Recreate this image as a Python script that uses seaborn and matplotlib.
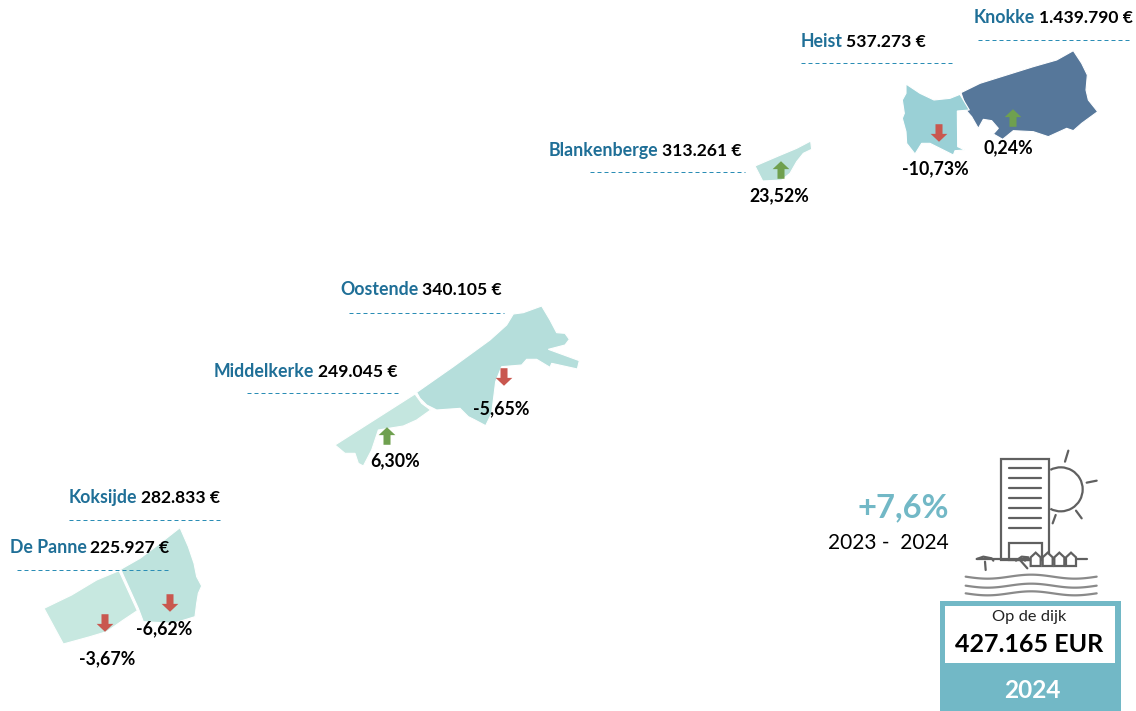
import numpy as np
import pandas as pd
import matplotlib
matplotlib.use("Agg")
import matplotlib.pyplot as plt
from matplotlib.colors import LinearSegmentedColormap
from matplotlib.patches import Arc, Rectangle
from matplotlib.path import Path
import seaborn as sns

# chart values
towns = ["Knokke", "Heist", "Blankenberge", "Oostende", "Middelkerke", "Koksijde", "De Panne"]
prices = [1439790, 537273, 313261, 340105, 249045, 282833, 225927]
changes = [0.24, -10.73, 23.52, -5.65, 6.30, -6.62, -3.67]
total_change = "+7,6%"
total_period = "2023 -  2024"
total_label = "Op de dijk"
total_price = "427.165 EUR"
total_year = "2024"

# layout, in reference pixels: label left x, label y, dash x0, dash x1, dash y
label_pos = {
    "Knokke": (974, 17.5, 978, 1132, 39.5),
    "Heist": (801, 41.5, 801, 955, 62.5),
    "Blankenberge": (549, 150.5, 590, 745, 171.5),
    "Oostende": (340, 289.5, 349, 504, 312.5),
    "Middelkerke": (214, 371.5, 247, 401, 392.5),
    "Koksijde": (69, 497.5, 69, 223, 519.5),
    "De Panne": (10, 547.5, 17, 171, 569.5),
}
arrow_x = [1013, 939, 781, 504, 387, 170, 105]
arrow_y = [118, 133, 170, 377, 436, 603, 623]
pct_pos = [(1008, 148), (935, 169), (779, 196), (501, 409), (395, 461), (164, 629), (107, 659)]

# town outlines traced on a 3x crop: (crop x0, crop y0, points)
outlines = {
    "Knokke": (780, 0, [(543,278),(600,250),(680,225),(760,200),(830,180),(880,152),(905,190),(922,225),
                        (918,270),(925,300),(953,335),(905,370),(880,392),(860,385),(805,410),(760,395),
                        (700,392),(668,418),(640,402),(655,385),(635,362),(610,358),(595,385),(575,350),(562,335)]),
    "Heist": (780, 0, [(378,252),(420,280),(462,300),(510,295),(540,283),(568,330),(532,333),(533,440),
                       (555,450),(525,452),(520,465),(490,450),(450,430),(425,430),(405,462),(380,430),
                       (378,395),(367,355),(373,340),(367,300),(378,280)]),
    "Blankenberge": (540, 130, [(645,108),(715,78),(770,55),(812,33),(815,58),(790,70),(770,95),(750,130),
                                (725,150),(668,153)]),
    "Oostende": (320, 270, [(290,367),(400,290),(510,210),(560,165),(580,132),(610,128),(665,108),(690,150),
                            (710,188),(735,190),(748,208),(735,225),(685,238),(778,272),(772,297),(695,280),
                            (690,292),(650,268),(620,268),(605,285),(545,290),(527,335),(515,430),(497,467),
                            (465,450),(445,440),(420,415),(350,420),(320,405),(300,385)]),
    "Middelkerke": (320, 270, [(285,372),(305,400),(332,420),(290,450),(250,468),(175,480),(155,540),(130,588),
                               (115,580),(105,550),(75,550),(45,525)]),
    "Koksijde": (0, 480, [(362,268),(420,235),(480,190),(540,143),(565,200),(582,250),(590,290),(605,318),
                          (595,340),(590,370),(585,410),(520,430),(430,425),(415,385)]),
    "De Panne": (0, 480, [(132,385),(215,345),(290,300),(357,272),(412,392),(370,420),(320,455),(270,470),(190,492)]),
}

BLUE = "#1F6F97"
TEAL = "#72B8C6"
GREY = "#606060"


def dots(v):
    return f"{v:,}".replace(",", ".")


def crop(pts, x0=820, y0=440):
    a = np.array(pts, dtype=float) / 3
    return a[:, 0] + x0, a[:, 1] + y0


sns.set_theme(style="white")
plt.rcParams["font.family"] = ["Lato", "DejaVu Sans"]

fig = plt.figure(figsize=(11.36, 7.11), dpi=100)
ax = fig.add_axes([0, 0, 1, 1])
ax.set_xlim(0, 1136)
ax.set_ylim(711, 0)
ax.axis("off")

# towns coloured by price
cmap = LinearSegmentedColormap.from_list(
    "coast", [(0, "#C7E8E0"), (0.09, "#B6DEDB"), (0.257, "#9AD0D6"), (1, "#56779A")])
lo, hi = min(prices), max(prices)
for name, price in zip(towns, prices):
    x0, y0, pts = outlines[name]
    xs, ys = crop(pts, x0, y0)
    ax.fill(xs, ys, color=cmap((price - lo) / (hi - lo)), ec="white", lw=0.8, zorder=1)

# up and down arrows, marker paths are in screen direction
up_arrow = Path([(-0.4,-1),(-0.4,0.1),(-0.95,0.1),(0,1),(0.95,0.1),(0.4,0.1),(0.4,-1),(-0.4,-1)], closed=True)
down_arrow = Path([(-0.4,1),(-0.4,-0.1),(-0.95,-0.1),(0,-1),(0.95,-0.1),(0.4,-0.1),(0.4,1),(-0.4,1)], closed=True)
df = pd.DataFrame({"x": arrow_x, "y": arrow_y, "town": towns, "change": changes})
df["dir"] = np.where(df["change"] > 0, "up", "down")
sns.scatterplot(data=df, x="x", y="y", hue="dir", style="dir",
                palette={"up": "#6FA04F", "down": "#C9574F"},
                markers={"up": up_arrow, "down": down_arrow},
                s=160, linewidth=0, legend=False, ax=ax, zorder=3)
ax.set_xlim(0, 1136)
ax.set_ylim(711, 0)

# labels
for name, price, change, (px, py) in zip(towns, prices, changes, pct_pos):
    lx, ly, d0, d1, dy = label_pos[name]
    t = ax.text(lx, ly, name, color=BLUE, fontsize=12.8, fontweight="bold", va="center", ha="left")
    ax.annotate(f"{dots(price)} €", xy=(1, 0), xycoords=t, xytext=(2.5, 0), textcoords="offset points",
                color="black", fontsize=12.6, fontweight="bold", va="bottom", ha="left")
    ax.plot([d0, d1], [dy, dy], color="#2A8DB5", lw=0.72, dashes=(4, 3))
    ax.text(px, py, f"{change:.2f}%".replace(".", ","), color="black", fontsize=12.8,
            fontweight="bold", ha="center", va="center", zorder=4)

# total block on the right
ax.text(949, 508, total_change, color=TEAL, fontsize=23.6, fontweight="bold", ha="right", va="center")
ax.text(949, 543, total_period, color="black", fontsize=15, ha="right", va="center")

# building icon
lw = 1.6
bx, by = crop([(543,57),(687,360)])
ax.add_patch(Rectangle((bx[0], by[0]), bx[1]-bx[0], by[1]-by[0], fc="none", ec=GREY, lw=lw, zorder=2))
for yy in [85, 115, 145, 175, 205, 235, 263]:
    xs, ys = crop([(568,yy),(662,yy)])
    ax.plot(xs, ys, color=GREY, lw=lw)
dx, dy = crop([(567,308),(665,360)])
ax.add_patch(Rectangle((dx[0], dy[0]), dx[1]-dx[0], dy[1]-dy[0], fc="none", ec=GREY, lw=lw))
sx, sy = crop([(722,148)])
ax.add_patch(Arc((sx[0], sy[0]), 44, 44, theta1=-118, theta2=118, ec=GREY, lw=lw))
for ray in [[(745,32),(735,65)], [(830,122),(800,128)], [(768,212),(785,235)], [(707,225),(698,250)]]:
    xs, ys = crop(ray)
    ax.plot(xs, ys, color=GREY, lw=lw, solid_capstyle="round")
xs, ys = crop([(470,357),(800,357)])
ax.plot(xs, ys, color=GREY, lw=lw)
# beach umbrellas
for um in [[(470,357),(490,350),(515,355),(520,362)], [(495,365),(497,390)],
           [(588,362),(605,350),(625,352),(615,362)], [(600,360),(622,385)]]:
    xs, ys = crop(um)
    ax.plot(xs, ys, color=GREY, lw=lw)
# small houses
for hx in [632, 668, 703, 738]:
    xs, ys = crop([(hx,378),(hx,352),(hx+15,338),(hx+30,352),(hx+30,378),(hx,378)])
    ax.fill(xs, ys, fc="white", ec=GREY, lw=lw, zorder=3)
# waves
wx = np.linspace(437, 830, 80)
for base in [410, 437, 460]:
    xs, ys = crop(np.column_stack([wx, base + 6 * np.sin((wx - 437) / 393 * 3 * np.pi)]))
    ax.plot(xs, ys, color="#8A8A8A", lw=lw)

# price card
ax.add_patch(Rectangle((940, 601), 181, 110, fc=TEAL, ec="none"))
ax.add_patch(Rectangle((945, 606), 169.5, 57, fc="white", ec="none"))
ax.text(1029.5, 617, total_label, color="#222222", fontsize=11.8, ha="center", va="center")
ax.text(1029.5, 645, total_price, color="black", fontsize=18, fontweight="bold", ha="center", va="center")
ax.text(1032, 691, total_year, color="white", fontsize=17.6, fontweight="bold", ha="center", va="center")

fig.savefig("out.png", dpi=100)
